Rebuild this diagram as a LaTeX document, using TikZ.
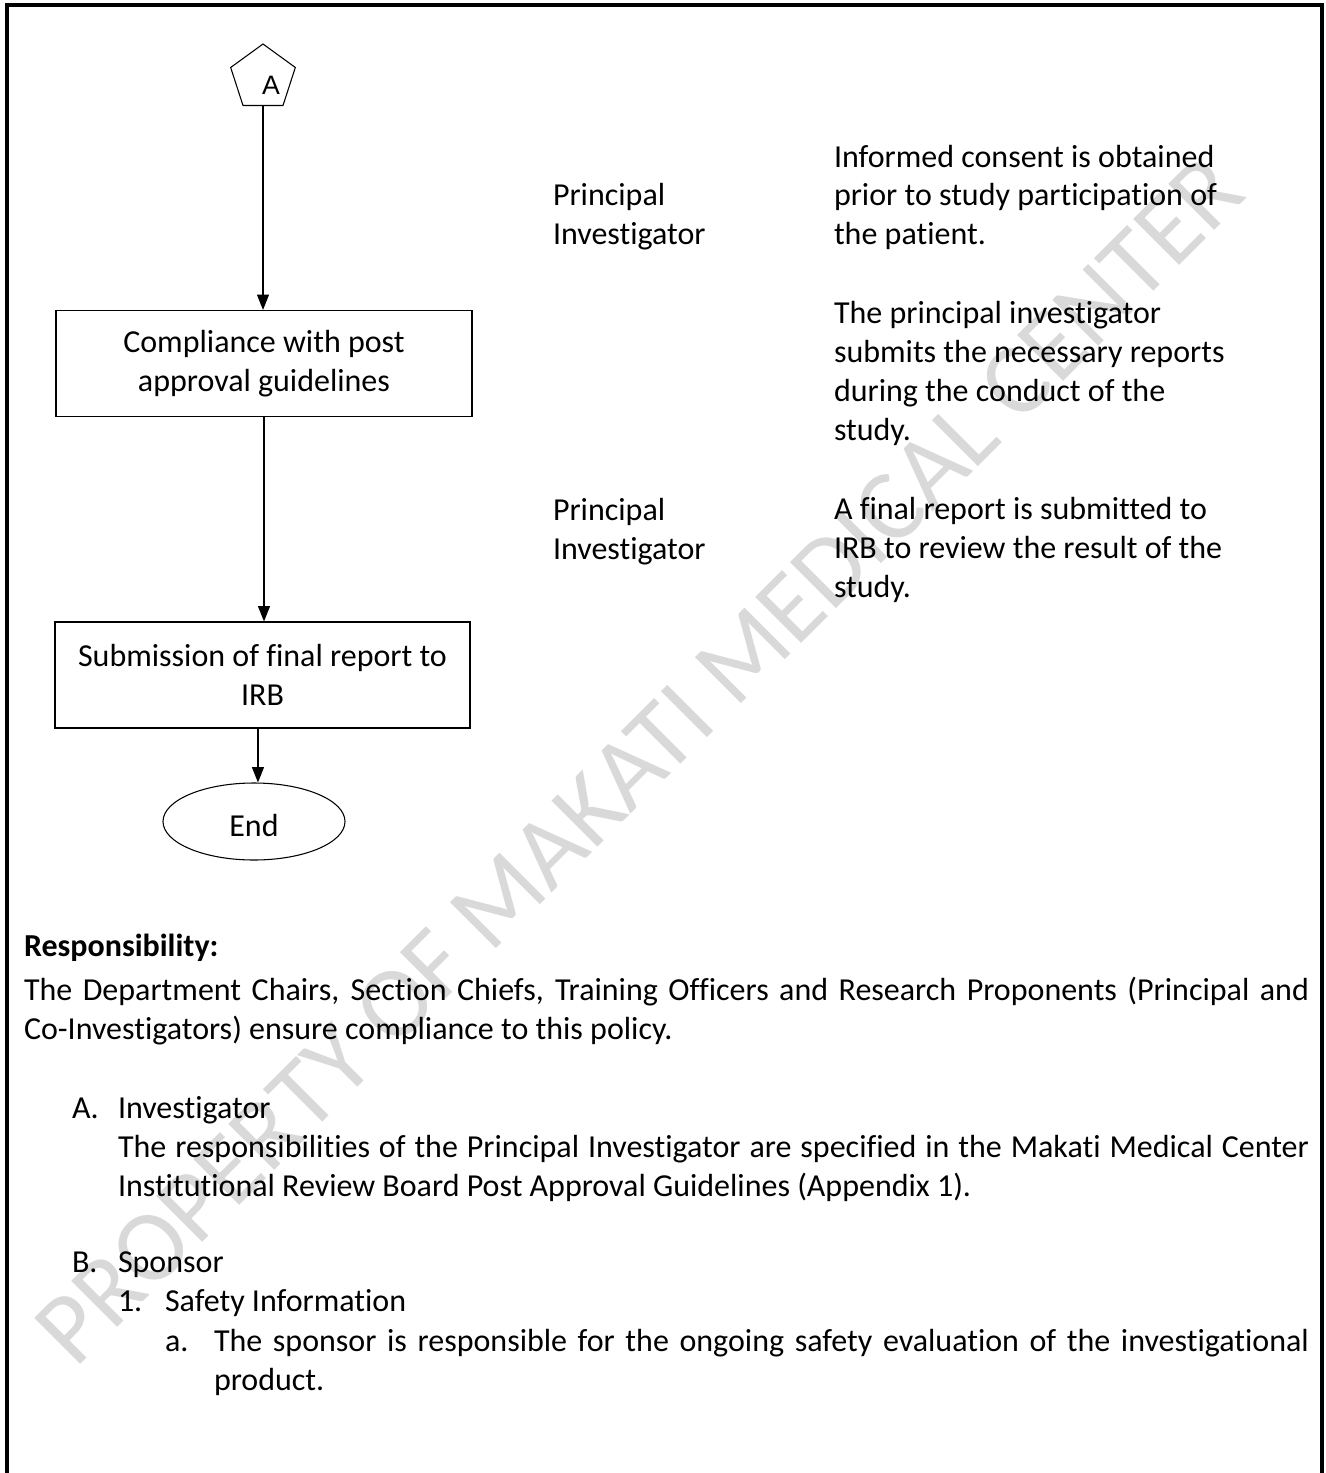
\documentclass[tikz,border=0pt]{standalone}
\usepackage{fontspec}
\setmainfont{Carlito}[Ligatures={NoCommon,NoContextual}]
\newfontfamily\arialfont{Liberation Sans}
\usetikzlibrary{shapes.geometric,arrows.meta}
\definecolor{wmgray}{RGB}{217,217,217}
\begin{document}
\begin{tikzpicture}[x=0.75pt,y=-0.75pt,
  txt/.style={inner sep=0pt, outer sep=0pt, anchor=base west, font=\fontsize{24pt}{29.25pt}\selectfont, align=left},
  box/.style={draw, line width=0.9pt, minimum width=312pt, minimum height=79.5pt, align=center, inner sep=0pt, font=\fontsize{24pt}{29.25pt}\selectfont},
  arr/.style={line width=0.9pt, -{Triangle[width=9pt,length=11.5pt]}},
]
\useasboundingbox (0,0) rectangle (1326,1473);
% watermark
\node[rotate=45, anchor=base west, inner sep=0pt, text=wmgray, font=\fontsize{76pt}{76pt}\selectfont] (wm) at (75,1370) {PROPERTY OF MAKATI MEDICAL CENTER};
% frame
\draw[line width=3pt] (6.5,1473) -- (6.5,5.5) -- (1321.5,5.5) -- (1321.5,1473);
% flowchart
\node[regular polygon, regular polygon sides=5, draw, line width=0.8pt, minimum size=51pt, inner sep=0pt] (pa) at (263,78) {};
\node[font=\arialfont\fontsize{20pt}{24pt}\selectfont, inner sep=0pt] (pal) at (271,85) {A};
\node[box] (b1) at (264,363.5) {Compliance with post\\approval guidelines};
\node[box, minimum width=311.25pt] (b2) at (262.5,675) {Submission of final report to\\IRB};
\node[ellipse, draw, line width=0.8pt, minimum width=136.5pt, minimum height=57.75pt, inner sep=0pt, text height=22.5pt, text depth=0pt, font=\fontsize{24pt}{29.25pt}\selectfont] (end) at (254,821.5) {End};
\draw[arr] (pa.south) -- (pa.south |- b1.north);
\draw[arr] (b1.south) -- (b1.south |- b2.north);
\draw[arr] ([xshift=-3.4pt]b2.south) -- ([xshift=-3.4pt]b2.south |- end.north);
% right column (anchor = baseline of last line)
\node[txt] (pi1) at (553,245) {Principal\\Investigator};
\node[txt] (d1) at (834,245) {Informed consent is obtained\\prior to study participation of\\the patient.};
\node[txt] (d2) at (834,440) {The principal investigator\\submits the necessary reports\\during the conduct of the\\study.};
\node[txt] (pi2) at (553,559) {Principal\\Investigator};
\node[txt] (d3) at (834,597) {A final report is submitted to\\IRB to review the result of the\\study.};
% bottom text
\node[txt] (resp) at (24,956) {\textbf{Responsibility:}};
\node[txt] (rp1) at (24,1000) {\makebox[963.75pt][s]{The Department Chairs, Section Chiefs, Training Officers and Research Proponents (Principal and}};
\node[txt] (rp2) at (24,1039) {Co-Investigators) ensure compliance to this policy.};
\node[txt] (la) at (72,1118) {A.};
\node[txt] (ia) at (118,1196) {Investigator\\\makebox[893.25pt][s]{The responsibilities of the Principal Investigator are specified in the Makati Medical Center}\\Institutional Review Board Post Approval Guidelines (Appendix 1).};
\node[txt] (lb) at (72,1272) {B.};
\node[txt] (sb) at (118,1272) {Sponsor};
\node[txt] (l1) at (118,1311) {1.};
\node[txt] (s1) at (165,1311) {Safety Information};
\node[txt] (laa) at (165,1351) {a.};
\node[txt] (sa) at (214,1390) {\makebox[821.25pt][s]{The sponsor is responsible for the ongoing safety evaluation of the investigational}\\product.};
\end{tikzpicture}
\end{document}
